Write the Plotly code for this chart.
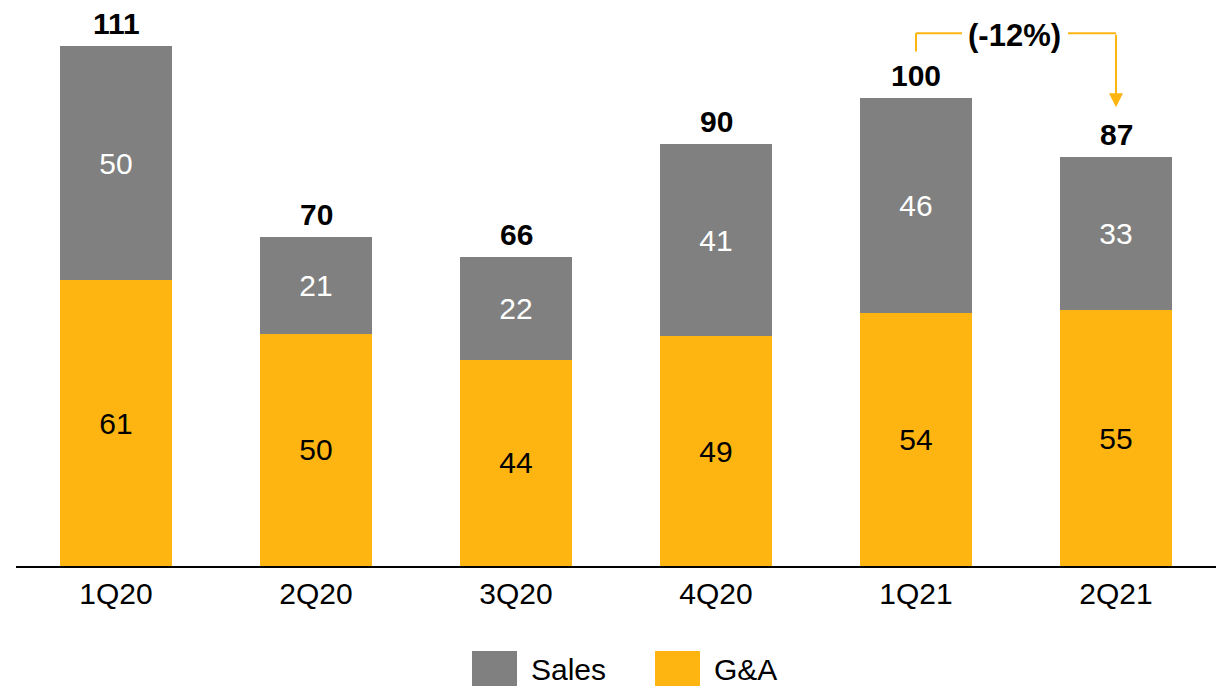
import plotly.graph_objects as go

quarters = ["1Q20", "2Q20", "3Q20", "4Q20", "1Q21", "2Q21"]
ga = [61, 49.6, 44, 49, 54, 54.6]
sales = [50, 20.6, 22, 41, 46, 32.8]
totals = [round(a + b) for a, b in zip(ga, sales)]

GRAY = "#808080"
YELLOW = "#FFB511"
FONT = "Arial, Liberation Sans, sans-serif"
FS = 30

fig = go.Figure()
fig.add_trace(go.Bar(
    x=quarters, y=ga, name="G&A", marker=dict(color=YELLOW, line=dict(width=0)),
    texttemplate="%{y:.0f}", textposition="inside", insidetextanchor="middle",
    textangle=0, textfont=dict(color="black", size=FS, family=FONT),
))
fig.add_trace(go.Bar(
    x=quarters, y=sales, name="Sales", marker=dict(color=GRAY, line=dict(width=0)),
    texttemplate="%{y:.0f}", textposition="inside", insidetextanchor="middle",
    textangle=0, textfont=dict(color="white", size=FS, family=FONT),
))

# total labels
for q, t, a, b in zip(quarters, totals, ga, sales):
    fig.add_annotation(x=q, y=a + b, text=f"<b>{t}</b>", showarrow=False,
                       yanchor="bottom", yshift=4,
                       font=dict(size=FS, color="black", family=FONT))

# bracket (-12%)
lw = 2
fig.add_shape(type="line", xref="x", yref="y", x0=4, x1=4, y0=109.8, y1=113.7,
              line=dict(color=YELLOW, width=lw))
fig.add_shape(type="line", xref="x", yref="y", x0=4, x1=4.23, y0=113.7, y1=113.7,
              line=dict(color=YELLOW, width=lw))
fig.add_shape(type="line", xref="x", yref="y", x0=4.76, x1=5, y0=113.7, y1=113.7,
              line=dict(color=YELLOW, width=lw))
fig.add_annotation(x=5, y=97.9, ax=5, ay=113.7, xref="x", yref="y", axref="x", ayref="y",
                   showarrow=True, arrowhead=2, arrowsize=1.4, arrowwidth=lw,
                   arrowcolor=YELLOW, text="")
fig.add_annotation(x=4.49, y=113.2, text="<b>(-12%)</b>", showarrow=False,
                   xref="x", yref="y", font=dict(size=31, color="black", family=FONT))

# manual legend
legend_items = [("Sales", GRAY, 472, 529), ("G&A", YELLOW, 655, 712)]
for name, col, x0px, txpx in legend_items:
    fig.add_shape(type="rect", xref="paper", yref="paper",
                  x0=(x0px - 16) / 1200, x1=(x0px + 45 - 16) / 1200,
                  y0=(566 - 651) / 566, y1=(566 - 700) / 566,
                  fillcolor=col, line=dict(width=0))
    fig.add_annotation(xref="paper", yref="paper", x=(txpx - 16) / 1200,
                       y=(566 - 669) / 566, xanchor="left", yanchor="middle",
                       text=name, showarrow=False,
                       font=dict(size=FS, color="black", family=FONT))

fig.update_layout(
    barmode="stack", bargap=0.44, showlegend=False,
    width=1223, height=686, margin=dict(l=16, r=7, t=0, b=120),
    plot_bgcolor="white", paper_bgcolor="white",
    font=dict(family=FONT, size=FS, color="black"),
    uniformtext=dict(minsize=FS, mode="show"),
)
fig.update_xaxes(showline=True, linecolor="black", linewidth=2, ticks="",
                 tickfont=dict(size=FS, color="black", family=FONT),
                 range=[-0.5, 5.5], showgrid=False)
fig.update_yaxes(visible=False, range=[0, 566 / 4.685], showgrid=False)

fig.write_html("out.html")
